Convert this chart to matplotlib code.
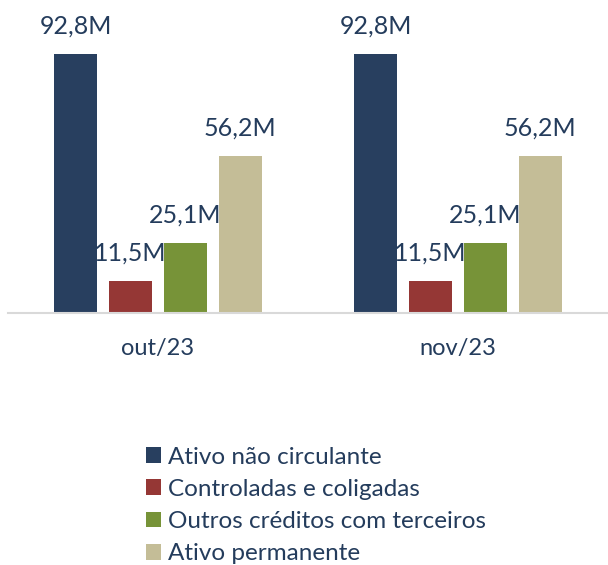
import numpy as np
import matplotlib.pyplot as plt
from matplotlib.patches import Patch

plt.rcParams['font.family'] = ['Lato', 'DejaVu Sans']

meses = ['out/23', 'nov/23']
series = ['Ativo não circulante', 'Controladas e coligadas',
          'Outros créditos com terceiros', 'Ativo permanente']
valores = [
    [92.8, 92.8],
    [11.5, 11.5],
    [25.1, 25.1],
    [56.2, 56.2],
]
rotulos = [
    ['92,8M', '92,8M'],
    ['11,5M', '11,5M'],
    ['25,1M', '25,1M'],
    ['56,2M', '56,2M'],
]
cores = ['#283F5F', '#953735', '#779338', '#C4BD97']
texto = '#243C5C'

fig = plt.figure(figsize=(6.08, 5.65), dpi=100)
ax = fig.add_axes([8 / 608, 252 / 565, 600 / 608, 279 / 565])

x = np.arange(len(meses))
largura = 0.143
passo = 0.183
for i, (vals, cor) in enumerate(zip(valores, cores)):
    pos = x + (i - 1.5) * passo
    bars = ax.bar(pos, vals, width=largura, color=cor)
    for b, lab in zip(bars, rotulos[i]):
        ax.annotate(lab, (b.get_x() + b.get_width() / 2, b.get_height()),
                    xytext=(0, 12), textcoords='offset points',
                    ha='center', va='bottom', fontsize=18, color=texto,
                    annotation_clip=False)

ax.set_xlim(-0.5, 1.5)
ax.set_ylim(0, 100)
ax.set_yticks([])
ax.set_xticks(x)
ax.set_xticklabels(meses, fontsize=17, color=texto)
ax.tick_params(axis='x', length=0, pad=18)
for s in ['top', 'left', 'right']:
    ax.spines[s].set_visible(False)
ax.spines['bottom'].set_color('#D9D9D9')
ax.spines['bottom'].set_linewidth(1.5)

handles = [Patch(facecolor=c, label=s) for c, s in zip(cores, series)]
leg = fig.legend(handles=handles, loc='upper left', bbox_to_anchor=(136 / 608, 1 - 437 / 565),
                 frameon=False, fontsize=17.5, handlelength=0.62, handleheight=0.62,
                 handletextpad=0.3, labelspacing=0.46, borderaxespad=0)
for t in leg.get_texts():
    t.set_color(texto)

fig.savefig('out.png', dpi=100)
